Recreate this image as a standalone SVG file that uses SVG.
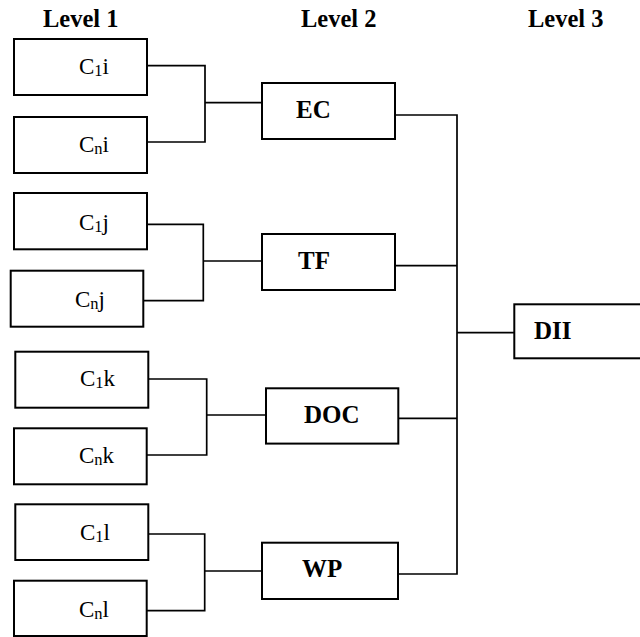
<svg xmlns="http://www.w3.org/2000/svg" width="640" height="637" viewBox="0 0 640 637">
<style>
.box{fill:#fff;stroke:#000;stroke-width:2}
.cn{fill:none;stroke:#000;stroke-width:1.7}
</style>
<rect width="640" height="637" fill="#fff"/>
<g id="headers" font-family="Liberation Serif, Times New Roman, serif" font-weight="bold" font-size="24.5" fill="#000">
<text x="43" y="27">Level 1</text>
<text x="301" y="27">Level 2</text>
<text x="528" y="27">Level 3</text>
</g>
<g id="connectors">
<path class="cn" d="M147,65.7H205V142H147M205,102.7H262"/>
<path class="cn" d="M147,224.3H203.3V300.7H143M203.3,261H262"/>
<path class="cn" d="M148,379H206.7V455H147M206.7,415H266"/>
<path class="cn" d="M148,534H204.7V610.7H147M204.7,571H262"/>
<path class="cn" d="M395,115H457V574H398M395,265.7H457M398,418.3H457M457,332.7H514"/>
</g>
<g font-family="Liberation Serif, Times New Roman, serif" font-size="23" fill="#000">
<g id="C1i"><rect class="box" x="14" y="39" width="133" height="56"/><text x="79" y="74">C<tspan font-size="16.5" dy="2">1</tspan><tspan dy="-2">i</tspan></text></g>
<g id="Cni"><rect class="box" x="14" y="117" width="133" height="56"/><text x="79" y="151.7">C<tspan font-size="16.5" dy="2">n</tspan><tspan dy="-2">i</tspan></text></g>
<g id="C1j"><rect class="box" x="14" y="193" width="133" height="56.3"/><text x="79" y="230">C<tspan font-size="16.5" dy="2">1</tspan><tspan dy="-2">j</tspan></text></g>
<g id="Cnj"><rect class="box" x="10.7" y="270.7" width="132.6" height="56"/><text x="75" y="306.7">C<tspan font-size="16.5" dy="2">n</tspan><tspan dy="-2">j</tspan></text></g>
<g id="C1k"><rect class="box" x="15.3" y="351.7" width="133" height="56"/><text x="80" y="386">C<tspan font-size="16.5" dy="2">1</tspan><tspan dy="-2">k</tspan></text></g>
<g id="Cnk"><rect class="box" x="14" y="428.3" width="132.7" height="56"/><text x="79" y="462.7">C<tspan font-size="16.5" dy="2">n</tspan><tspan dy="-2">k</tspan></text></g>
<g id="C1l"><rect class="box" x="15.3" y="504.3" width="133" height="55.7"/><text x="80" y="540">C<tspan font-size="16.5" dy="2">1</tspan><tspan dy="-2">l</tspan></text></g>
<g id="Cnl"><rect class="box" x="14" y="580.7" width="132.7" height="55.3"/><text x="79" y="616.7">C<tspan font-size="16.5" dy="2">n</tspan><tspan dy="-2">l</tspan></text></g>
</g>
<g font-family="Liberation Serif, Times New Roman, serif" font-weight="bold" font-size="25" fill="#000">
<g id="EC"><rect class="box" x="262" y="83" width="133" height="56"/><text x="296" y="118.3">EC</text></g>
<g id="TF"><rect class="box" x="262" y="234" width="133" height="56"/><text x="298" y="269">TF</text></g>
<g id="DOC"><rect class="box" x="266" y="388.3" width="132.3" height="55.3"/><text x="304" y="423.3">DOC</text></g>
<g id="WP"><rect class="box" x="262" y="542.7" width="136" height="56.3"/><text x="302" y="576.7">WP</text></g>
<g id="DII"><rect class="box" x="514.3" y="304.3" width="150" height="54"/><text x="534" y="339">DII</text></g>
</g>
</svg>
